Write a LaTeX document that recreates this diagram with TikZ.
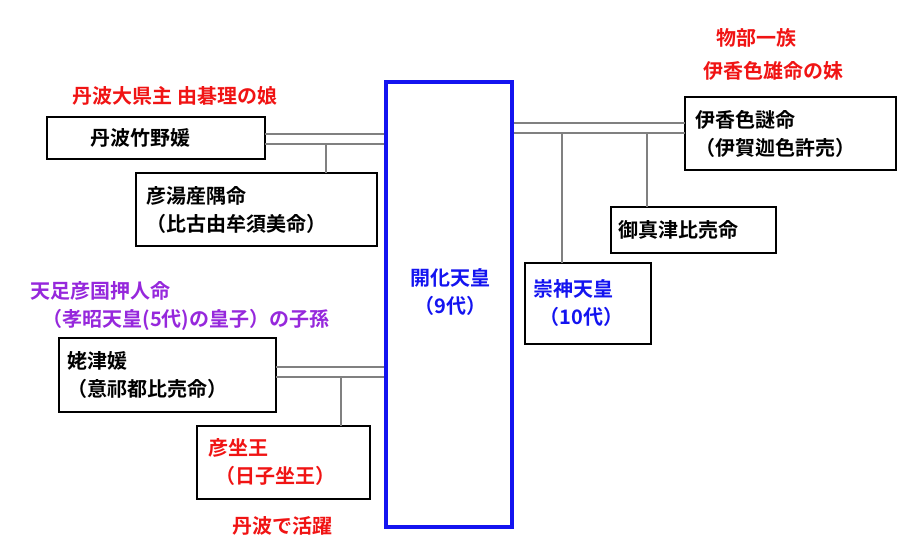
\documentclass[tikz,border=0pt]{standalone}
\usepackage{fontspec}
\newfontfamily\jp{Noto Sans CJK JP}[BoldFont={* Bold}]
\definecolor{tred}{RGB}{240,20,20}
\definecolor{tpurple}{RGB}{150,40,220}
\definecolor{tblue}{RGB}{20,20,240}
\tikzset{person/.style={draw, thick, inner sep = 0pt, outer sep = 0pt, align=left, font=\jp\bfseries\fontsize{15}{21}\selectfont},
	link/.style={draw=gray, thick},
	note/.style={font=\jp\bfseries\fontsize{15}{21}\selectfont, inner sep = 0pt, align=left}}
\begin{document}
\begin{tikzpicture}[x=0.75pt,y=-0.75pt]
\useasboundingbox (0,0) rectangle (911,553);
% centre
\node[draw=tblue, line width=3pt, minimum width=126*0.75pt, minimum height=445*0.75pt, inner sep=0pt] (kaika) at (449,304.5) {};
\node[note, text=tblue] (kaikat) at (450,292) {開化天皇\\\ （9代）};
% left side
\node[person, minimum width=218*0.75pt, minimum height=42*0.75pt, text width=170*0.75pt] (takeno) at (156,138) {\ \ \ 丹波竹野媛};
\node[person, minimum width=241*0.75pt, minimum height=73*0.75pt, text width=220*0.75pt] (yugori) at (256.5,209.5) {彦湯産隅命\\（比古由牟須美命）};
\node[person, minimum width=217*0.75pt, minimum height=74*0.75pt, text width=200*0.75pt] (hahatsu) at (167.5,375) {姥津媛\\（意祁都比売命）};
\node[person, minimum width=173*0.75pt, minimum height=73*0.75pt, text width=150*0.75pt, text=tred] (hikoimasu) at (283.5,462.5) {彦坐王\\\ （日子坐王）};
% right side
\node[person, minimum width=211*0.75pt, minimum height=73*0.75pt, text width=190*0.75pt] (ikaga) at (790.5,133.5) {伊香色謎命\\（伊賀迦色許売）};
\node[person, minimum width=165*0.75pt, minimum height=46*0.75pt, text width=150*0.75pt] (mimatsu) at (693.5,230) {御真津比売命};
\node[person, minimum width=126*0.75pt, minimum height=81*0.75pt, text width=110*0.75pt, text=tblue] (sujin) at (588,303.5) {崇神天皇\\\ （10代）};
% notes
\node[note, text=tred] (n1) at (756,38) {物部一族};
\node[note, text=tred] (n2) at (773,71) {伊香色雄命の妹};
\node[note, text=tred] (n3) at (175,96) {丹波大県主 由碁理の娘};
\node[note, text=tred] (n4) at (282,526) {丹波で活躍};
\node[note, text=tpurple] (n5) at (186,306) {\makebox[0pt][l]{\hspace{-0.6em}天足彦国押人命}\\（孝昭天皇(5代)の皇子）の子孫};
% links
\coordinate (a1) at (takeno.east |- 0,134);
\coordinate (a2) at (takeno.east |- 0,144);
\coordinate (a3) at (326,144);
\draw[link] (a1) -- (kaika.west |- a1);
\draw[link] (a2) -- (kaika.west |- a2);
\draw[link] (a3) -- (a3 |- yugori.north);
\coordinate (b1) at (hahatsu.east |- 0,367);
\coordinate (b2) at (hahatsu.east |- 0,377);
\coordinate (b3) at (341,377);
\draw[link] (b1) -- (kaika.west |- b1);
\draw[link] (b2) -- (kaika.west |- b2);
\draw[link] (b3) -- (b3 |- hikoimasu.north);
\coordinate (c1) at (kaika.east |- 0,123);
\coordinate (c2) at (kaika.east |- 0,133);
\coordinate (c3) at (562,133);
\coordinate (c4) at (647,133);
\draw[link] (c1) -- (ikaga.west |- c1);
\draw[link] (c2) -- (ikaga.west |- c2);
\draw[link] (c3) -- (c3 |- sujin.north);
\draw[link] (c4) -- (c4 |- mimatsu.north);
\end{tikzpicture}
\end{document}
